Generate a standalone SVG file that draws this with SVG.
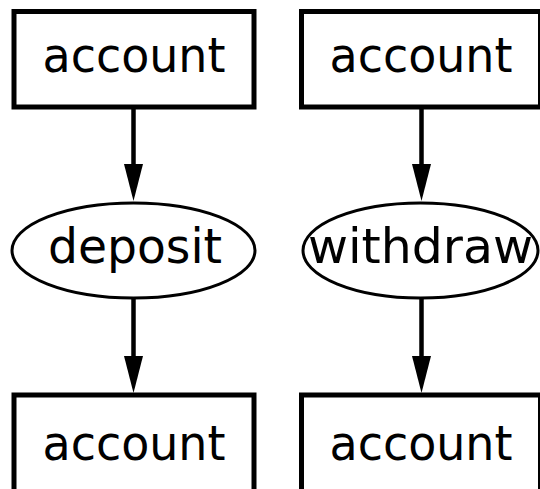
<svg xmlns="http://www.w3.org/2000/svg" width="540" height="489" viewBox="0 0 540 489">
  <style>
    .box { fill: #ffffff; stroke: #000000; stroke-width: 5; }
    .oval { fill: #ffffff; stroke: #000000; stroke-width: 3; }
    .edge { fill: none; stroke: #000000; stroke-width: 4.5; marker-end: url(#arrow); }
    .label { font-family: "DejaVu Sans", "Liberation Sans", sans-serif; font-size: 48px; fill: #000000; text-anchor: middle; }
  </style>
  <defs>
    <marker id="arrow" markerUnits="userSpaceOnUse" markerWidth="38" markerHeight="20" refX="0" refY="9.5" orient="auto" viewBox="0 0 38 20">
      <path d="M0,0 L37,9.5 L0,19 Z" fill="#000000"/>
    </marker>
  </defs>
  <rect width="540" height="489" fill="#ffffff"/>
  <g id="connectors">
    <line class="edge" x1="133.5" y1="109" x2="133.5" y2="164"/>
    <line class="edge" x1="133.5" y1="298" x2="133.5" y2="356"/>
    <line class="edge" x1="421.5" y1="109" x2="421.5" y2="164"/>
    <line class="edge" x1="421.5" y1="298" x2="421.5" y2="356"/>
  </g>
  <g id="account_in_1">
    <rect class="box" x="14" y="11.5" width="240" height="95.5"/>
    <text class="label" x="134" y="72" textLength="183" lengthAdjust="spacingAndGlyphs">account</text>
  </g>
  <g id="account_in_2">
    <rect class="box" x="301.5" y="11.5" width="239" height="95.5"/>
    <text class="label" x="421" y="72" textLength="183" lengthAdjust="spacingAndGlyphs">account</text>
  </g>
  <g id="deposit">
    <ellipse class="oval" cx="133.5" cy="250.5" rx="121.5" ry="47.5"/>
    <text class="label" x="135" y="263" textLength="174" lengthAdjust="spacingAndGlyphs">deposit</text>
  </g>
  <g id="withdraw">
    <ellipse class="oval" cx="420.5" cy="250.5" rx="117.5" ry="47.5"/>
    <text class="label" x="420.5" y="263" textLength="225" lengthAdjust="spacingAndGlyphs">withdraw</text>
  </g>
  <g id="account_out_1">
    <rect class="box" x="14" y="395" width="240" height="105"/>
    <text class="label" x="134" y="460" textLength="183" lengthAdjust="spacingAndGlyphs">account</text>
  </g>
  <g id="account_out_2">
    <rect class="box" x="301.5" y="395" width="239" height="105"/>
    <text class="label" x="421" y="460" textLength="183" lengthAdjust="spacingAndGlyphs">account</text>
  </g>
</svg>
